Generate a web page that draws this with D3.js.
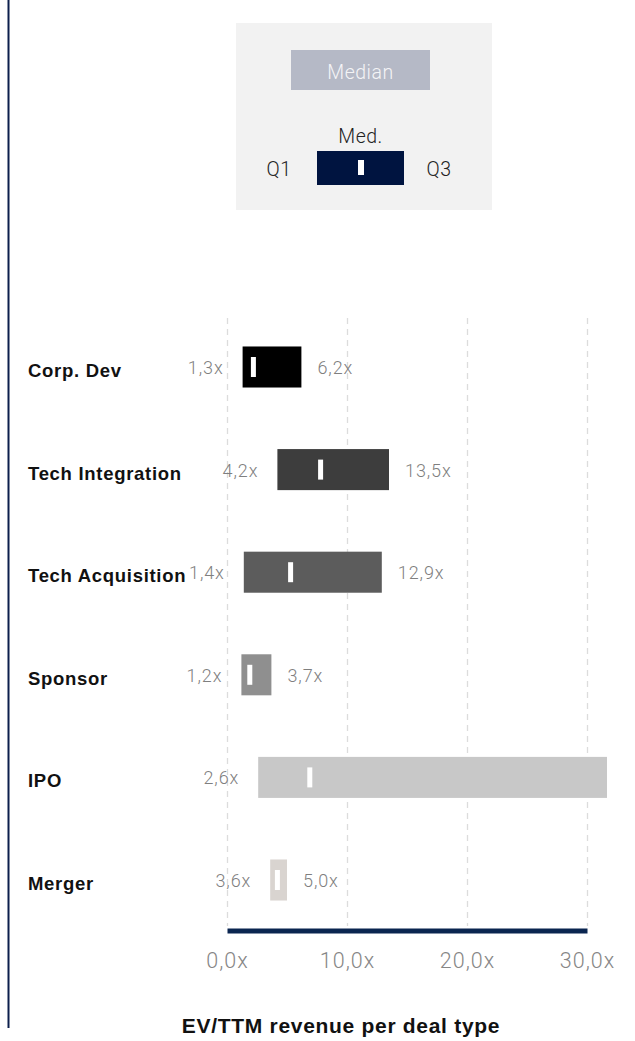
<!DOCTYPE html>
<html>
<head>
<meta charset="utf-8">
<script src="https://cdn.jsdelivr.net/npm/d3@7"></script>
<style>
  html, body { margin: 0; padding: 0; background: #fff; }
  svg { display: block; }
</style>
</head>
<body>
<svg id="chart" width="635" height="1041"></svg>
<script>
const categories = ["Corp. Dev", "Tech Integration", "Tech Acquisition", "Sponsor", "IPO", "Merger"];
const q1Values = [1.3, 4.2, 1.4, 1.2, 2.6, 3.6];
const medianValues = [2.2, 7.8, 5.3, 1.9, 6.9, 4.2];
const q3Values = [6.2, 13.5, 12.9, 3.7, 31.7, 5.0];
const barColors = ["#000000", "#3d3d3d", "#5c5c5c", "#8f8f8f", "#c8c8c8", "#d9d4d0"];
const tickValues = [0, 10, 20, 30];
const titleText = "EV/TTM revenue per deal type";

const fmt = v => d3.format(".1f")(v).replace(".", ",") + "x";
const light = "Roboto, 'Liberation Sans', sans-serif";
const bold = "'Liberation Sans', Arial, sans-serif";

const svg = d3.select("#chart");

// left rule
svg.append("line").attr("x1", 8.5).attr("x2", 8.5).attr("y1", 0).attr("y2", 1028)
  .attr("stroke", "#0d1f4c").attr("stroke-width", 2);

// legend
const lg = svg.append("g");
const legText = (xx, yy, t, fill) => lg.append("text").attr("x", xx).attr("y", yy).attr("text-anchor", "middle")
  .attr("font-family", light).attr("font-weight", 300).attr("font-size", 19.5).attr("letter-spacing", 0.5)
  .attr("fill", fill).text(t);
lg.append("rect").attr("x", 236).attr("y", 23).attr("width", 256).attr("height", 187).attr("fill", "#f2f2f2");
lg.append("rect").attr("x", 291).attr("y", 50).attr("width", 139).attr("height", 40).attr("fill", "#b5b9c6");
legText(360.5, 79, "Median", "#f4f4f6");
legText(360.5, 143, "Med.", "#222");
lg.append("rect").attr("x", 317).attr("y", 151).attr("width", 87).attr("height", 34).attr("fill", "#001440");
lg.append("rect").attr("x", 358).attr("y", 160).attr("width", 6).attr("height", 15).attr("fill", "#fff");
legText(279, 176, "Q1", "#222");
legText(439, 176, "Q3", "#222");

// scales
const x = d3.scaleLinear().domain([0, 30]).range([227, 587]);
const y = d3.scaleBand().domain(categories).range([315.7, 931.3]).paddingInner(0.6).paddingOuter(0.3);

// grid
svg.append("g").selectAll("line").data(tickValues).join("line")
  .attr("x1", d => x(d) + 0.5).attr("x2", d => x(d) + 0.5)
  .attr("y1", 318).attr("y2", 926)
  .attr("stroke", "#dcdcdc").attr("stroke-width", 1.3).attr("stroke-dasharray", "6,5");

// clip
svg.append("clipPath").attr("id", "clip").append("rect")
  .attr("x", 0).attr("y", 0).attr("width", 607).attr("height", 1041);

const data = categories.map((c, i) => ({ c, q1: q1Values[i], med: medianValues[i], q3: q3Values[i], color: barColors[i] }));

const rows = svg.append("g").attr("clip-path", "url(#clip)")
  .selectAll("g").data(data).join("g");

rows.append("rect")
  .attr("x", d => x(d.q1)).attr("y", d => y(d.c))
  .attr("width", d => x(d.q3) - x(d.q1)).attr("height", y.bandwidth())
  .attr("fill", d => d.color);

rows.append("rect")
  .attr("x", d => x(d.med) - 2.5).attr("y", d => y(d.c) + y.bandwidth() / 2 - 10)
  .attr("width", 5).attr("height", 20).attr("fill", "#fff");

const valStyle = sel => sel.attr("font-family", light).attr("font-weight", 300).attr("font-size", 18)
  .attr("letter-spacing", 0.9).attr("fill", "#7f7f7f");

rows.append("text")
  .attr("x", d => x(d.q1) - 19).attr("y", d => y(d.c) + y.bandwidth() / 2 + 7)
  .attr("text-anchor", "end")
  .call(valStyle)
  .text(d => fmt(d.q1));

rows.filter(d => d.q3 <= x.domain()[1]).append("text")
  .attr("x", d => x(d.q3) + 16).attr("y", d => y(d.c) + y.bandwidth() / 2 + 7)
  .attr("text-anchor", "start")
  .call(valStyle)
  .text(d => fmt(d.q3));

// category labels
svg.append("g").selectAll("text").data(categories).join("text")
  .attr("x", 28).attr("y", d => y(d) + y.bandwidth() / 2 + 10)
  .attr("font-family", bold).attr("font-weight", 700).attr("font-size", 18.5).attr("letter-spacing", 0.7)
  .attr("fill", "#111")
  .text(d => d);

// axis
const axis = svg.append("g").attr("transform", "translate(0,930.5)")
  .call(d3.axisBottom(x).tickValues(tickValues).tickSize(0).tickPadding(22).tickFormat(fmt));
axis.select(".domain").attr("stroke", "#0a2550").attr("stroke-width", 5);
axis.selectAll("text").attr("font-family", light).attr("font-weight", 300)
  .attr("font-size", 21.5).attr("letter-spacing", 1).attr("fill", "#868686");

// title
svg.append("text").attr("x", 341).attr("y", 1033).attr("text-anchor", "middle")
  .attr("font-family", bold).attr("font-weight", 700).attr("font-size", 21).attr("letter-spacing", 0.7)
  .attr("fill", "#111")
  .text(titleText);
</script>
</body>
</html>
